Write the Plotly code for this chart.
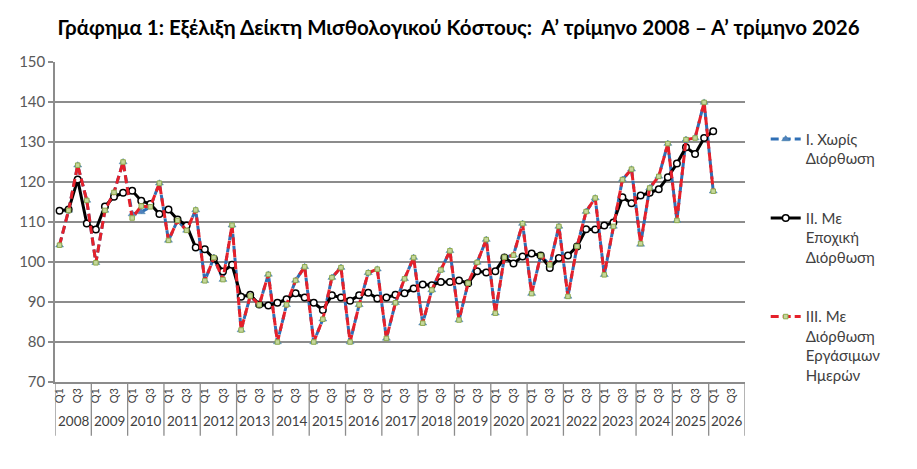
import plotly.graph_objects as go

# ---- data ----
years = list(range(2008, 2027))
quarters = ["Q1", "Q2", "Q3", "Q4"]
tick_quarters = ["Q1", "Q3"]

title_text = "Γράφημα 1: Εξέλιξη Δείκτη Μισθολογικού Κόστους:  Α’ τρίμηνο 2008 – Α’ τρίμηνο 2026"
series_names = [
    "I. Χωρίς<br>Διόρθωση",
    "II. Με<br>Εποχική<br>Διόρθωση",
    "III. Με<br>Διόρθωση<br>Εργάσιμων<br>Ημερών",
]

# I. Χωρίς Διόρθωση (2008Q1 .. 2026Q1)
s_raw = [104.2, 112.9, 124.2, 115.4, 99.8, 112.9, 117.4, 125.0,
         112.0, 112.5, 113.8, 119.7, 105.4, 110.4, 107.9, 113.0,
         95.3, 101.1, 95.6, 109.2, 83.0, 91.5, 89.3, 96.9,
         80.0, 89.3, 95.4, 98.8, 80.0, 85.7, 96.1, 98.6,
         80.0, 89.3, 97.3, 98.2, 80.9, 89.8, 95.8, 101.1,
         84.7, 93.0, 98.0, 102.8, 85.5, 94.7, 99.9, 105.6,
         87.2, 101.2, 101.7, 109.6, 92.1, 101.6, 99.3, 108.9,
         91.4, 103.9, 112.6, 116.0, 96.8, 108.9, 120.6, 123.2,
         104.4, 118.5, 121.4, 129.6, 110.4, 130.6, 131.0, 139.9,
         117.7]

# II. Με Εποχική Διόρθωση
s_sa = [112.8, 113.1, 120.6, 109.6, 108.1, 113.9, 116.3, 117.3,
        117.8, 115.3, 114.5, 112.0, 113.1, 110.6, 109.1, 103.6,
        103.2, 100.8, 97.6, 99.3, 91.3, 91.8, 89.4, 89.1,
        89.8, 90.7, 92.2, 91.1, 89.8, 88.0, 91.7, 91.1,
        90.3, 91.7, 92.3, 90.9, 91.1, 91.8, 92.2, 93.4,
        94.4, 94.2, 95.0, 95.0, 95.4, 94.7, 97.7, 97.4,
        97.7, 101.1, 99.6, 101.4, 102.1, 101.6, 98.5, 101.0,
        101.6, 103.9, 108.2, 108.1, 109.1, 109.9, 116.2, 114.7,
        116.6, 117.3, 118.2, 121.2, 124.6, 128.7, 127.0, 131.0,
        132.7]

# III. Με Διόρθωση Εργάσιμων Ημερών
s_wd = [104.2, 112.9, 124.2, 115.4, 99.8, 112.9, 117.4, 125.0,
        111.0, 114.0, 113.8, 119.7, 105.4, 110.4, 107.9, 113.0,
        95.3, 101.1, 95.6, 109.2, 83.0, 91.5, 89.3, 96.9,
        80.0, 89.3, 95.4, 98.8, 80.0, 85.7, 96.1, 98.6,
        80.0, 89.3, 97.3, 98.2, 80.9, 89.8, 95.8, 101.1,
        84.7, 93.0, 98.0, 102.8, 85.5, 94.7, 99.9, 105.6,
        87.2, 101.2, 101.7, 109.6, 92.1, 101.6, 99.3, 108.9,
        91.4, 103.9, 112.6, 116.0, 96.8, 108.9, 120.6, 123.2,
        104.6, 118.5, 121.4, 129.6, 110.4, 130.6, 131.0, 139.9,
        117.7]

# ---- derived positions ----
period_years = [y for y in years for q in quarters]
period_quarters = [q for y in years for q in quarters]
x_all = list(range(len(period_quarters)))
x_data = x_all[:len(s_sa)]
tick_vals = [i for i, q in zip(x_all, period_quarters) if q in tick_quarters]
tick_text = [q for q in period_quarters if q in tick_quarters]

FONT = "Lato"
GRID = "#8c8c8c"

fig = go.Figure()
fig.add_trace(go.Scatter(
    x=x_data, y=s_raw, name=series_names[0], mode="lines+markers",
    line=dict(color="#2f6fb5", width=3, dash="8px,4px"),
    marker=dict(symbol="triangle-up", size=7, color="#4f81bd",
                line=dict(color="#4a86a8", width=0.5)),
    legendgroup="g1",
))
fig.add_trace(go.Scatter(
    x=x_data, y=s_sa, name=series_names[1], mode="lines+markers",
    line=dict(color="#000000", width=3),
    marker=dict(symbol="circle", size=6.5, color="#ffffff",
                line=dict(color="#000000", width=1.5)),
    legendgroup="g2",
))
fig.add_trace(go.Scatter(
    x=x_data, y=s_wd, name=series_names[2], mode="lines+markers",
    line=dict(color="#e5202a", width=3, dash="8px,4px"),
    marker=dict(symbol="square", size=4.5, color="#c4d79b",
                line=dict(color="#8faa4f", width=1)),
    legendgroup="g3",
))

# year boundary separators and year labels (multi-level category look)
shapes = []
for k in range(len(years) + 1):
    xb = k * len(quarters) - 0.5
    shapes.append(dict(type="line", xref="x", yref="paper", x0=xb, x1=xb,
                       y0=0, y1=-0.168, line=dict(color=GRID, width=1.3)))
annotations = []
for k, yr in enumerate(years):
    annotations.append(dict(
        x=k * len(quarters) + 1.5, y=-0.122, xref="x", yref="paper",
        text=str(yr), showarrow=False, yanchor="middle",
        font=dict(family=FONT, size=13.5, color="#404040")))

fig.update_layout(
    width=917, height=469,
    margin=dict(l=55, r=172, t=62, b=87),
    paper_bgcolor="white", plot_bgcolor="white",
    title=dict(text="<b>" + title_text + "</b>", x=0.5, xref="container",
               xanchor="center", y=1 - 28 / 469, yref="container",
               yanchor="middle",
               font=dict(family=FONT, size=20.5, color="#000000")),
    showlegend=True,
    legend=dict(x=1.03, xanchor="left", y=0.81, yanchor="top",
                font=dict(family=FONT, size=15, color="#404040"),
                tracegroupgap=37, valign="top",
                bgcolor="rgba(0,0,0,0)", itemwidth=30),
    shapes=shapes,
    annotations=annotations,
)
fig.update_xaxes(
    range=[-0.5, len(x_all) - 0.5], tickmode="array",
    tickvals=tick_vals, ticktext=tick_text, tickangle=-90,
    tickfont=dict(family=FONT, size=11, color="#404040"),
    showgrid=False, zeroline=False, showline=True,
    linecolor=GRID, linewidth=1.5, ticks="",
)
fig.update_yaxes(
    range=[70, 150], dtick=10, tick0=70,
    tickfont=dict(family=FONT, size=15, color="#595959"),
    showgrid=True, gridcolor=GRID, gridwidth=1.5,
    zeroline=False, showline=True, linecolor=GRID, linewidth=1.5,
    ticks="outside", ticklen=5, tickcolor=GRID, tickwidth=1.5,
)

fig.write_html("out.html")
